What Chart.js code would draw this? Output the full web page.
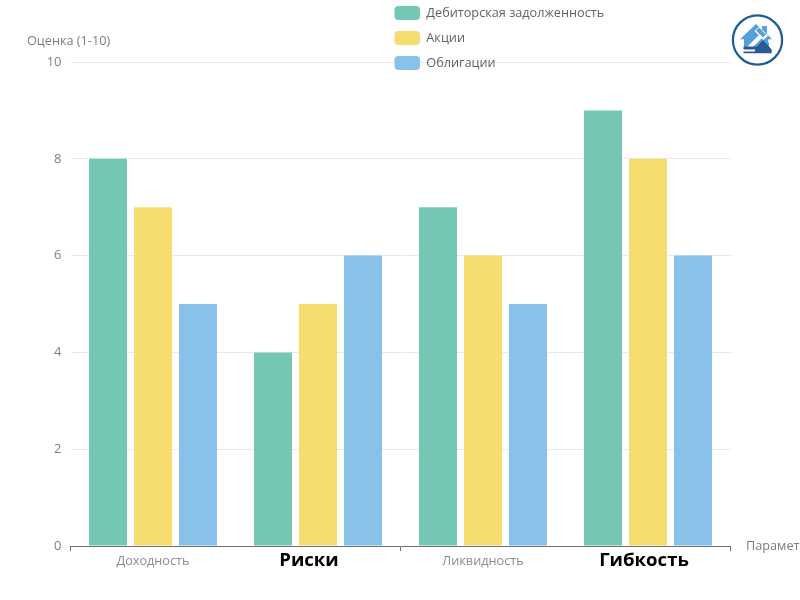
<!DOCTYPE html>
<html><head><meta charset="utf-8">
<style>html,body{margin:0;padding:0;background:#fff;overflow:hidden}#w{position:relative;width:800px;height:600px}canvas{position:absolute;left:0;top:0}svg{position:absolute;left:730px;top:13px}</style>
<script src="https://cdn.jsdelivr.net/npm/chart.js@4"></script>
</head><body><div id="w"><canvas id="c" width="800" height="600"></canvas>
<svg width="54" height="54" viewBox="0 0 54 54">
<circle cx="27.5" cy="27" r="24.6" fill="#fff" stroke="#1d5c92" stroke-width="2.2"/>
<path d="M10 26.3L26 11L32 16.5V13H37V21L42 26.3H38.3V36H14V26.3Z" fill="#559fdc"/>
<path d="M17 34L29 22L32 25L21 36Z" fill="#fff"/>
<path d="M24.5 18L29 13.5L38 22.5L33.5 27Z" fill="#fff"/>
<path d="M26 17.5L29 14.5L36 21.5L33 24.5Z" fill="#559fdc"/>
<path d="M36 30H39V36H36Z" fill="#559fdc"/>
<path d="M13.5 33.5H27L33 27L41.7 36.5V40.3H13.5V38.5H25V36.5H13.5Z" fill="#2a5a92"/>
</svg></div>
<script>
const categories=['Доходность','Риски','Ликвидность','Гибкость'];
const seriesNames=['Дебиторская задолженность','Акции','Облигации'];
const receivables=[8,4,7,9];
const stocks=[7,5,6,8];
const bonds=[5,6,5,6];
const seriesColors=['#74c7b5','#f7dc70','#88c1ea'];
const yTicks=[0,2,4,6,8,10];
const yName='Оценка (1-10)';
const xName='Параметры';
const FONT='"Open Sans"';
const boldCats=[1,3];
const bar=(i,d)=>({label:seriesNames[i],data:d,backgroundColor:seriesColors[i],borderWidth:0,categoryPercentage:0.818,barPercentage:0.844});
const labelNudge={1:[-9,-4],3:[-4,-4]};
const extras={id:'extras',
 beforeDraw(ch){const l=ch.legend;l.left=383.5;l.right=640;l.top=-5;l.bottom=140;l.adjustHitBoxes();
  const s=ch.scales.x;const items=s.getLabelItems();
  items.forEach((it,i)=>{const n=labelNudge[i];if(n&&!it._moved){it.options.translation[0]+=n[0];it.options.translation[1]+=n[1];it._moved=true;}});},
 afterDraw(ch){const x=ch.ctx;x.save();x.font='12.7px '+FONT;x.fillStyle='#777c85';x.textBaseline='middle';x.textAlign='left';
  x.fillText(yName,27,41);x.fillText(xName,746,546);x.restore();}};
new Chart(document.getElementById('c'),{type:'bar',
 data:{labels:categories,datasets:[bar(0,receivables),bar(1,stocks),bar(2,bonds)]},
 plugins:[extras],
 options:{responsive:false,animation:false,devicePixelRatio:1,
  layout:{padding:{left:0.5,right:69.5,top:62,bottom:24}},
  plugins:{title:{display:false},tooltip:{enabled:false},
   legend:{display:true,position:'chartArea',align:'start',labels:{boxWidth:25.5,boxHeight:14,padding:11,useBorderRadius:true,borderRadius:4,color:'#5f6368',font:{family:FONT,size:12.7}}}},
  scales:{
   x:{afterFit(s){s.height=30;},
    border:{display:true,color:'#6e7079',width:1},
    grid:{display:true,offset:true,drawOnChartArea:false,drawTicks:true,tickLength:5,tickWidth:1,
     tickColor:c=>(c.index===1||c.index===3)?'rgba(0,0,0,0)':'#6e7079'},
    ticks:{padding:3,autoSkip:false,maxRotation:0,
     color:c=>boldCats.includes(c.index)?'#000':'#8a8d93',
     font:c=>boldCats.includes(c.index)?{family:FONT,size:18.6,weight:'bold'}:{family:FONT,size:12.7}}},
   y:{min:0,max:10,afterFit(s){s.width=70;},
    afterBuildTicks(s){s.ticks=yTicks.map(v=>({value:v}));},
    border:{display:false},
    grid:{color:'#e6e8f5',lineWidth:1,drawTicks:false},
    ticks:{padding:9,color:'#7c7f85',font:{family:FONT,size:13}}}
  }}});
</script></body></html>
